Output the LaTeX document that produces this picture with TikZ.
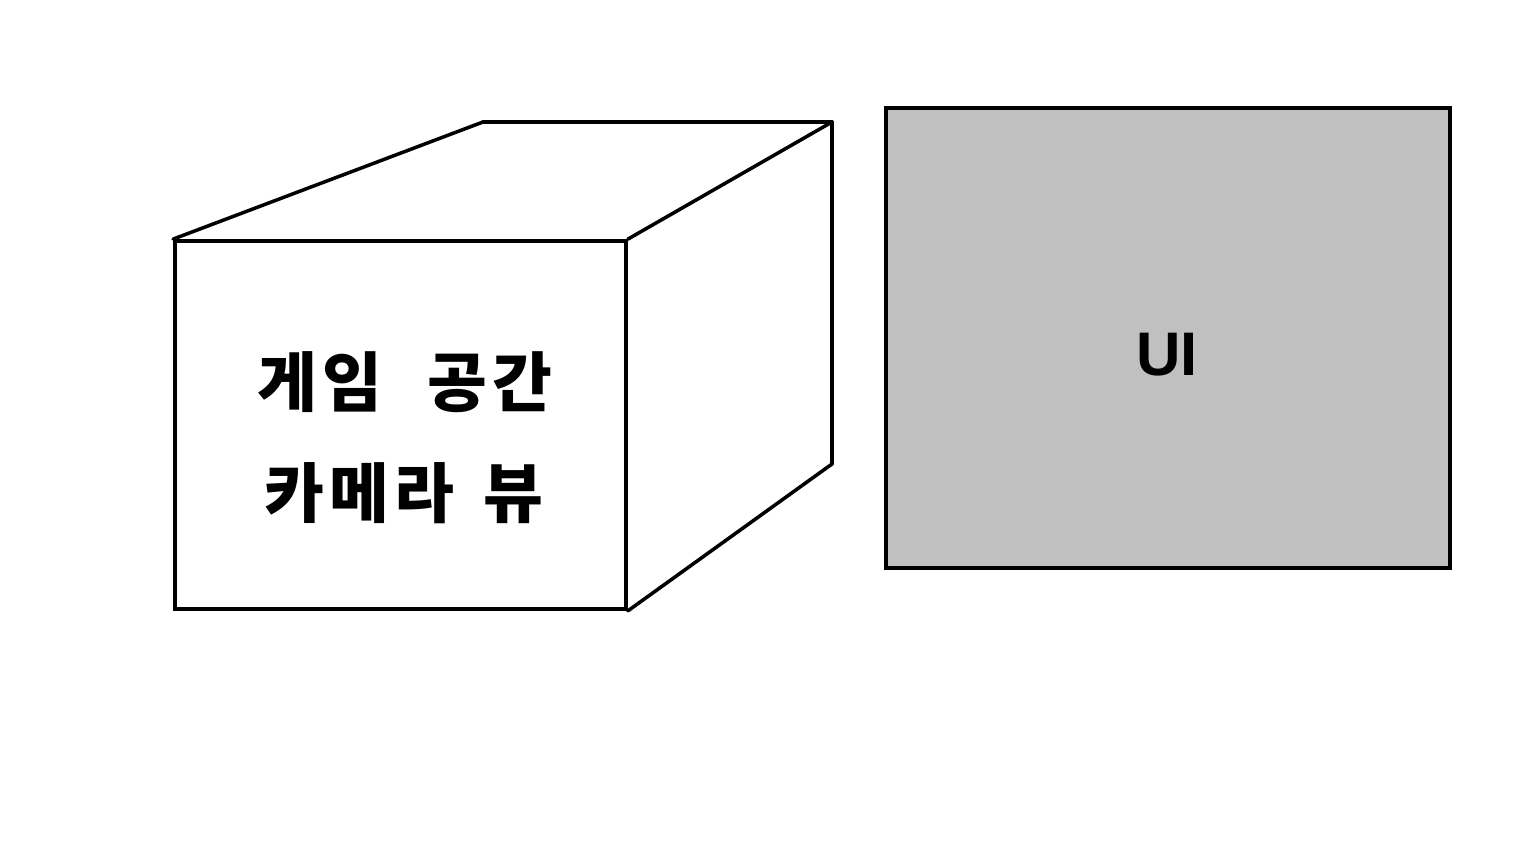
\documentclass[tikz,border=0pt]{standalone}
\usepackage{fontspec}
\setmainfont{Liberation Sans}
\newfontfamily\krfont{Noto Sans CJK KR}[LetterSpace=8]
\usepackage{tikz}
\usetikzlibrary{positioning}
\definecolor{uigray}{HTML}{C0C0C0}

\begin{document}
\begin{tikzpicture}[
  x=0.01cm, y=-0.01cm,
  edge/.style={draw, line width=1pt, line cap=round},
  face/.style={draw, line width=1pt, minimum width=4.51cm, minimum height=3.68cm, inner sep=0pt},
  panel/.style={draw, line width=1pt, fill=uigray, minimum width=5.64cm, minimum height=4.60cm, inner sep=0pt},
  krlabel/.style={font=\krfont\bfseries\fontsize{18.5}{20}\selectfont},
]
  \useasboundingbox (0,0) rectangle (1536,864);

  % Game space cube
  \node[face] (front) at (400.5, 425) {};
  \coordinate (backTL) at (483, 122);
  \coordinate (backTR) at (832, 122);
  \coordinate (backBR) at (832, 464);

  \draw[edge] (front.north west) -- (backTL);
  \draw[edge] (backTL) -- (backTR);
  \draw[edge] (front.north east) -- (backTR);
  \draw[edge] (backTR) -- (backBR);
  \draw[edge] (front.south east) -- (backBR);

  % Labels
  \node[krlabel] (game) at (405, 382) {게임\hspace{0.7em}공간};
  \node[krlabel] (camera) at (404, 493) {카메라\hspace{0.45em}뷰};

  % UI panel
  \node[panel] (ui) at (1168, 338) {};
  \node[font=\bfseries\fontsize{17.5}{20}\selectfont] (uilab) at (1167, 355) {UI};
\end{tikzpicture}
\end{document}
